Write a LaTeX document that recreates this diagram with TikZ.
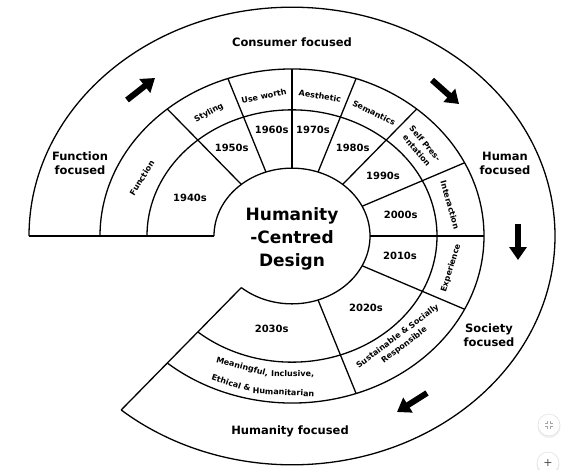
\documentclass[tikz,border=0pt]{standalone}
\usepackage{fontspec}
\setmainfont{DejaVu Sans}
\usetikzlibrary{arrows.meta}
\begin{document}
\begin{tikzpicture}[x=1pt,y=1pt,
  ln/.style={line width=1.3pt, black},
  dec/.style={font=\fontsize{10}{12}\selectfont\bfseries},
  lab/.style={font=\fontsize{8}{11}\selectfont\bfseries, align=center, inner sep=0pt},
  outer/.style={font=\fontsize{11.5}{14}\selectfont\bfseries, align=center},
  bigarrow/.style={line width=6pt, -{Triangle[length=13pt,width=17pt]}},
  btn/.style={circle, draw=gray!30, fill=white, minimum size=22pt, inner sep=0pt}
]
\path[use as bounding box, fill=white] (0,-469) rectangle (578,0);
\coordinate (c) at (292,-236);
\begin{scope}[shift={(292,-236)}, yscale=0.87]
  \foreach \r in {78,145,192,263}
    \draw[ln] (180:\r) arc[start angle=180, end angle=-130.5, radius=\r];
  \draw[ln] (180:78) -- (180:263);
  \draw[ln] (-130.5:78) -- (-130.5:263);
  \foreach \a in {130.5,109.5,90,70.5,49.5,26,0,-26,-70.5}
    \draw[ln] (\a:78) -- (\a:192);
\end{scope}

% centre
\node[font=\fontsize{17}{23}\selectfont\bfseries, align=center] (hcd) at (292,-239) {Humanity\\-Centred\\Design};

% decades
\node[dec] (d40) at (190,-198) {1940s};
\node[dec] (d50) at (231.7,-147.7) {1950s};
\node[dec] (d60) at (271.7,-130) {1960s};
\node[dec] (d70) at (313,-130) {1970s};
\node[dec] (d80) at (352.7,-147.7) {1980s};
\node[dec] (d90) at (383,-176) {1990s};
\node[dec] (d00) at (400.7,-215) {2000s};
\node[dec] (d10) at (400,-256) {2010s};
\node[dec] (d20) at (366,-308) {2020s};
\node[dec] (d30) at (271.7,-329.3) {2030s};

% ring labels
\node[lab, rotate=58] (lfun) at (142,-178) {Function};
\node[lab, rotate=28.7] (lsty) at (209,-113) {Styling};
\node[lab, rotate=12] (luse) at (264,-96) {Use worth};
\node[lab, rotate=-10] (laes) at (320,-96) {Aesthetic};
\node[lab, rotate=-26.6] (lsem) at (374,-113) {Semantics};
\node[lab, rotate=-50] (lself) at (421,-147) {Self Pres-\\entation};
\node[lab, rotate=-74] (lint) at (450,-205) {Interaction};
\node[lab, rotate=73] (lexp) at (451,-268) {Experience};
\node[lab, rotate=37] (lsus) at (401,-341) {Sustainable \& Socially\\Responsible};
\node[lab, rotate=-15] (lm1) at (242.2,-367.0) {Meaningful,};
\node[lab, rotate=-1] (lm2) at (292.6,-374.0) {Inclusive,};
\node[lab, rotate=-18.8] (lm3) at (226.5,-381.4) {Ethical};
\node[lab, rotate=-12.7] (lm4) at (247.1,-387.2) {\&};
\node[lab, rotate=-3] (lm5) at (283.5,-392.0) {Humanitarian};

% outer labels
\node[outer] (ocons) at (292,-42) {Consumer focused};
\node[outer] (ofun) at (80,-163) {Function\\focused};
\node[outer] (ohum) at (505,-163) {Human\\focused};
\node[outer] (osoc) at (489,-335) {Society\\focused};
\node[outer] (ohumty) at (290,-431) {Humanity focused};

% arrows
\coordinate (a1s) at (127,-100); \coordinate (a1e) at (155,-78);
\coordinate (a2s) at (432,-80);  \coordinate (a2e) at (459,-104);
\coordinate (a3s) at (518,-224); \coordinate (a3e) at (518,-260);
\coordinate (a4s) at (427,-393); \coordinate (a4e) at (397,-412);
\draw[bigarrow] (a1s) -- (a1e);
\draw[bigarrow] (a2s) -- (a2e);
\draw[bigarrow] (a3s) -- (a3e);
\draw[bigarrow] (a4s) -- (a4e);

% viewer buttons
\fill[gray!12] (549,-426.5) circle (11.5);
\node[btn] (btn1) at (549,-425) {};
\draw[gray!70, line width=0.6pt] (547.5,-421) -- (547.5,-423.5) -- (545,-423.5);
\draw[gray!70, line width=0.6pt] (550.5,-421) -- (550.5,-423.5) -- (553,-423.5);
\draw[gray!70, line width=0.6pt] (547.5,-429) -- (547.5,-426.5) -- (545,-426.5);
\draw[gray!70, line width=0.6pt] (550.5,-429) -- (550.5,-426.5) -- (553,-426.5);
\fill[gray!12] (548,-464.5) circle (11.5);
\node[btn, font=\fontsize{11}{11}\selectfont, text=gray!60!black] (btn2) at (548,-463) {+};
\end{tikzpicture}
\end{document}
